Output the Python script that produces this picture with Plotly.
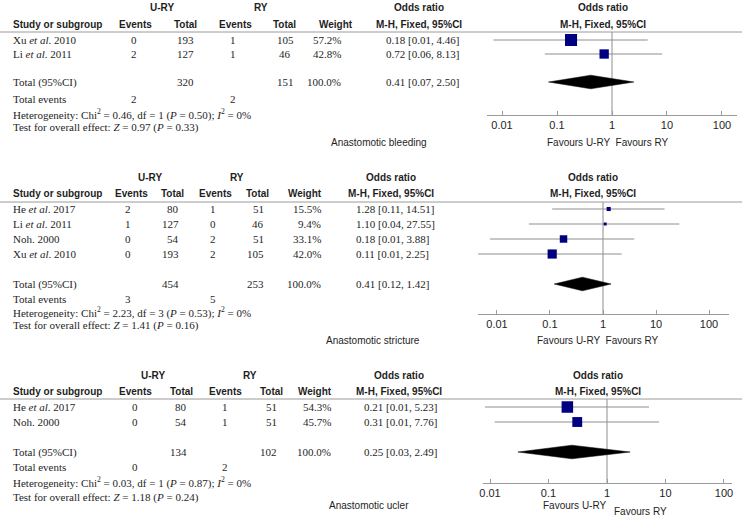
import plotly.graph_objects as go

W, H = 744, 518

# ---------------- data ----------------
outcomes = ["Anastomotic bleeding", "Anastomotic stricture", "Anastomotic ucler"]
tick_vals = [0.01, 0.1, 1, 10, 100]
tick_text = ["0.01", "0.1", "1", "10", "100"]

# Anastomotic bleeding
bleed_studies = ["Xu <i>et al</i>. 2010", "Li <i>et al</i>. 2011"]
bleed_ury_events = [0, 2]
bleed_ury_total = [193, 127]
bleed_ry_events = [1, 1]
bleed_ry_total = [105, 46]
bleed_weight = [57.2, 42.8]
bleed_or = [0.18, 0.72]
bleed_lo = [0.007, 0.06]
bleed_hi = [4.46, 8.13]
bleed_or_text = ["0.18 [0.01, 4.46]", "0.72 [0.06, 8.13]"]
bleed_totals = [320, 151]
bleed_total_events = [2, 2]
bleed_pooled = [0.41, 0.07, 2.50]
bleed_het = [0.46, 1, 0.50, 0]      # Chi2, df, P, I2
bleed_effect = [0.97, 0.33]         # Z, P

# Anastomotic stricture
strict_studies = ["He <i>et al</i>. 2017", "Li <i>et al</i>. 2011", "Noh. 2000", "Xu <i>et al</i>. 2010"]
strict_ury_events = [2, 1, 0, 0]
strict_ury_total = [80, 127, 54, 193]
strict_ry_events = [1, 0, 2, 2]
strict_ry_total = [51, 46, 51, 105]
strict_weight = [15.5, 9.4, 33.1, 42.0]
strict_or = [1.28, 1.10, 0.18, 0.11]
strict_lo = [0.11, 0.04, 0.0074, 0.0044]
strict_hi = [14.51, 27.55, 3.88, 2.25]
strict_or_text = ["1.28 [0.11, 14.51]", "1.10 [0.04, 27.55]", "0.18 [0.01, 3.88]", "0.11 [0.01, 2.25]"]
strict_totals = [454, 253]
strict_total_events = [3, 5]
strict_pooled = [0.41, 0.12, 1.42]
strict_het = [2.23, 3, 0.53, 0]
strict_effect = [1.41, 0.16]

# Anastomotic ucler
ulcer_studies = ["He <i>et al</i>. 2017", "Noh. 2000"]
ulcer_ury_events = [0, 0]
ulcer_ury_total = [80, 54]
ulcer_ry_events = [1, 1]
ulcer_ry_total = [51, 51]
ulcer_weight = [54.3, 45.7]
ulcer_or = [0.21, 0.31]
ulcer_lo = [0.0082, 0.012]
ulcer_hi = [5.23, 7.76]
ulcer_or_text = ["0.21 [0.01, 5.23]", "0.31 [0.01, 7.76]"]
ulcer_totals = [134, 102]
ulcer_total_events = [0, 2]
ulcer_pooled = [0.25, 0.03, 2.49]
ulcer_het = [0.03, 1, 0.87, 0]
ulcer_effect = [1.18, 0.24]

panels = [
    dict(st=bleed_studies, ue=bleed_ury_events, ut=bleed_ury_total, re=bleed_ry_events, rt=bleed_ry_total,
         w=bleed_weight, orv=bleed_or, lo=bleed_lo, hi=bleed_hi, ortx=bleed_or_text, tot=bleed_totals,
         tev=bleed_total_events, pool=bleed_pooled, het=bleed_het, eff=bleed_effect),
    dict(st=strict_studies, ue=strict_ury_events, ut=strict_ury_total, re=strict_ry_events, rt=strict_ry_total,
         w=strict_weight, orv=strict_or, lo=strict_lo, hi=strict_hi, ortx=strict_or_text, tot=strict_totals,
         tev=strict_total_events, pool=strict_pooled, het=strict_het, eff=strict_effect),
    dict(st=ulcer_studies, ue=ulcer_ury_events, ut=ulcer_ury_total, re=ulcer_ry_events, rt=ulcer_ry_total,
         w=ulcer_weight, orv=ulcer_or, lo=ulcer_lo, hi=ulcer_hi, ortx=ulcer_or_text, tot=ulcer_totals,
         tev=ulcer_total_events, pool=ulcer_pooled, het=ulcer_het, eff=ulcer_effect),
]

# ---------------- layout geometry (pixels) ----------------
geo = [
    dict(group_y=8, head_y=24, line_y=32, row0=40, pitch=14, ev_y=99, het_y=114, test_y=128,
         lab_x=330, lab_y=142, axis_y=115, ax_x0=487, ax_x1=737, ax_lo=-2.273, ax_hi=2.273,
         c_ev1=134, c_tot1=185, c_ev2=233, c_tot2=285, tot_anchor="center", c_w=342, c_or=385,
         h_ev1=135, h_tot1=185, h_ev2=235, h_tot2=284, h_w=336, h_or=419, g_ury=162, g_ry=261, h_plot=603,
         fav=[(607, 142, "Favours U-RY  Favours RY")]),
    dict(group_y=177, head_y=193, line_y=202, row0=209, pitch=15, ev_y=299, het_y=312, test_y=325,
         lab_x=325, lab_y=340, axis_y=314, ax_x0=478, ax_x1=729, ax_lo=-2.358, ax_hi=2.377,
         c_ev1=128, c_tot1=180, c_ev2=213, c_tot2=265, tot_anchor="right", c_w=322, c_or=355,
         h_ev1=131, h_tot1=172, h_ev2=215, h_tot2=257, h_w=305, h_or=391, g_ury=150, g_ry=237, h_plot=593,
         fav=[(597, 340, "Favours U-RY  Favours RY")]),
    dict(group_y=375, head_y=391, line_y=399, row0=407, pitch=15, ev_y=467, het_y=482, test_y=497,
         lab_x=328, lab_y=505, axis_y=483, ax_x0=483, ax_x1=732, ax_lo=-2.12, ax_hi=2.137,
         c_ev1=135, c_tot1=188, c_ev2=225, c_tot2=278, tot_anchor="right", c_w=332, c_or=363,
         h_ev1=135, h_tot1=181, h_ev2=225, h_tot2=271, h_w=315, h_or=399, g_ury=153, g_ry=250, h_plot=598,
         fav=[(574, 505, "Favours U-RY"), (640, 511, "Favours RY")]),
]

SERIF = "Liberation Serif, Times New Roman, serif"
SANS = "Liberation Sans, Arial, sans-serif"
TXT = "#1e1e1e"
NAVY = "#000080"
GREY = "#8e8e8e"
HS = 10  # sans header size


def px(x):
    return x / W


def py(y):
    return 1 - y / H


annotations = []
shapes = []
fig = go.Figure()


def add_text(x, y, text, anchor="left", font=SERIF, size=11):
    annotations.append(dict(x=px(x), y=py(y), xref="paper", yref="paper", text=text, showarrow=False,
                            xanchor=anchor, yanchor="middle", borderpad=0,
                            font=dict(family=font, size=size, color=TXT)))


layout_axes = {}
for i, (p, g) in enumerate(zip(panels, geo)):
    k = i + 1
    n = len(p["st"])
    total_row = n + 1
    row_px = [g["row0"] + g["pitch"] * r for r in range(n)]
    tot_px = g["row0"] + g["pitch"] * total_row

    # group headers
    add_text(g["g_ury"], g["group_y"], "<b>U-RY</b>", "center", SANS, HS)
    add_text(g["g_ry"], g["group_y"], "<b>RY</b>", "center", SANS, HS)
    add_text(g["h_or"], g["group_y"], "<b>Odds ratio</b>", "center", SANS, HS)
    add_text(g["h_plot"], g["group_y"], "<b>Odds ratio</b>", "center", SANS, HS)
    # column headers
    add_text(12, g["head_y"], "<b>Study or subgroup</b>", "left", SANS, HS)
    add_text(g["h_ev1"], g["head_y"], "<b>Events</b>", "center", SANS, HS)
    add_text(g["h_tot1"], g["head_y"], "<b>Total</b>", "center", SANS, HS)
    add_text(g["h_ev2"], g["head_y"], "<b>Events</b>", "center", SANS, HS)
    add_text(g["h_tot2"], g["head_y"], "<b>Total</b>", "center", SANS, HS)
    add_text(g["h_w"], g["head_y"], "<b>Weight</b>", "center", SANS, HS)
    add_text(g["h_or"], g["head_y"], "<b>M-H, Fixed, 95%CI</b>", "center", SANS, HS)
    add_text(g["h_plot"], g["head_y"], "<b>M-H, Fixed, 95%CI</b>", "center", SANS, HS)

    shapes.append(dict(type="line", xref="paper", yref="paper", x0=0, x1=px(742), y0=py(g["line_y"]),
                       y1=py(g["line_y"]), line=dict(color="#9a9a9a", width=1)))

    ta = g["tot_anchor"]
    for j in range(n):
        y = row_px[j]
        add_text(12, y, p["st"][j])
        add_text(g["c_ev1"], y, str(p["ue"][j]), "center")
        add_text(g["c_tot1"], y, str(p["ut"][j]), ta)
        add_text(g["c_ev2"], y, str(p["re"][j]), "center")
        add_text(g["c_tot2"], y, str(p["rt"][j]), ta)
        add_text(g["c_w"], y, f"{p['w'][j]:.1f}%", "right")
        add_text(g["c_or"], y, p["ortx"][j], "left")

    est, plo, phi = p["pool"]
    add_text(12, tot_px, "Total (95%CI)")
    add_text(g["c_tot1"], tot_px, str(p["tot"][0]), ta)
    add_text(g["c_tot2"], tot_px, str(p["tot"][1]), ta)
    add_text(g["c_w"], tot_px, f"{sum(p['w']):.1f}%", "right")
    add_text(g["c_or"], tot_px, f"{est:.2f} [{plo:.2f}, {phi:.2f}]", "left")

    add_text(12, g["ev_y"], "Total events")
    add_text(g["c_ev1"], g["ev_y"], str(p["tev"][0]), "center")
    add_text(g["c_ev2"], g["ev_y"], str(p["tev"][1]), "center")
    chi, df, pp, i2 = p["het"]
    add_text(12, g["het_y"], f"Heterogeneity: Chi<sup>2</sup> = {chi:.2f}, df = {df} (<i>P</i> = {pp:.2f}); "
                             f"<i>I</i><sup>2</sup> = {i2}%")
    z, pz = p["eff"]
    add_text(12, g["test_y"], f"Test for overall effect: <i>Z</i> = {z:.2f} (<i>P</i> = {pz:.2f})")

    add_text(g["lab_x"], g["lab_y"], outcomes[i], "left", SANS, 10)
    for (fx, fy, ft) in g["fav"]:
        add_text(fx, fy, ft, "center", SANS, 10)

    # forest plot
    xa = "x" if k == 1 else f"x{k}"
    ya = "y" if k == 1 else f"y{k}"
    rows = list(range(n))
    sizes = [0.19 * w + 1.2 for w in p["w"]]
    fig.add_trace(go.Scatter(
        x=p["orv"], y=rows, mode="markers", xaxis=xa, yaxis=ya, showlegend=False,
        marker=dict(symbol="square", size=sizes, color=NAVY, opacity=1, line=dict(width=0)),
        error_x=dict(type="data", symmetric=False,
                     array=[h - o for h, o in zip(p["hi"], p["orv"])],
                     arrayminus=[o - l for o, l in zip(p["orv"], p["lo"])],
                     color=GREY, thickness=1, width=0),
        cliponaxis=False))
    hh = 6.8 / g["pitch"]
    fig.add_trace(go.Scatter(
        x=[plo, est, phi, est, plo], y=[total_row, total_row - hh, total_row, total_row + hh, total_row],
        mode="lines", fill="toself", fillcolor="black", line=dict(color="black", width=0.5),
        xaxis=xa, yaxis=ya, showlegend=False))

    shapes.append(dict(type="line", xref=xa, yref=f"{ya} domain", x0=1, x1=1, y0=0, y1=1,
                       line=dict(color=GREY, width=1), layer="below"))

    top_r = (g["line_y"] - g["row0"]) / g["pitch"]
    bot_r = (g["axis_y"] - g["row0"]) / g["pitch"]
    layout_axes["xaxis" if k == 1 else f"xaxis{k}"] = dict(
        type="log", range=[g["ax_lo"], g["ax_hi"]], domain=[px(g["ax_x0"]), px(g["ax_x1"])],
        anchor=ya, showline=True, linecolor="#9a9a9a", linewidth=1, ticks="inside", ticklen=4,
        tickcolor="#9a9a9a", tickvals=tick_vals, ticktext=tick_text, showgrid=False, zeroline=False,
        tickfont=dict(family=SANS, size=11, color=TXT), fixedrange=True, automargin=False)
    layout_axes["yaxis" if k == 1 else f"yaxis{k}"] = dict(
        domain=[py(g["axis_y"]), py(g["line_y"])], range=[bot_r, top_r], visible=False,
        anchor=xa, fixedrange=True, showgrid=False, zeroline=False)

fig.update_layout(
    width=W, height=H, autosize=False,
    margin=dict(l=0, r=0, t=0, b=0, pad=0),
    paper_bgcolor="white", plot_bgcolor="white",
    annotations=annotations, shapes=shapes, showlegend=False,
    **layout_axes)

fig.write_html("out.html", config={"displayModeBar": False},
               post_script="document.body.style.margin='0';document.body.style.overflow='hidden';")
